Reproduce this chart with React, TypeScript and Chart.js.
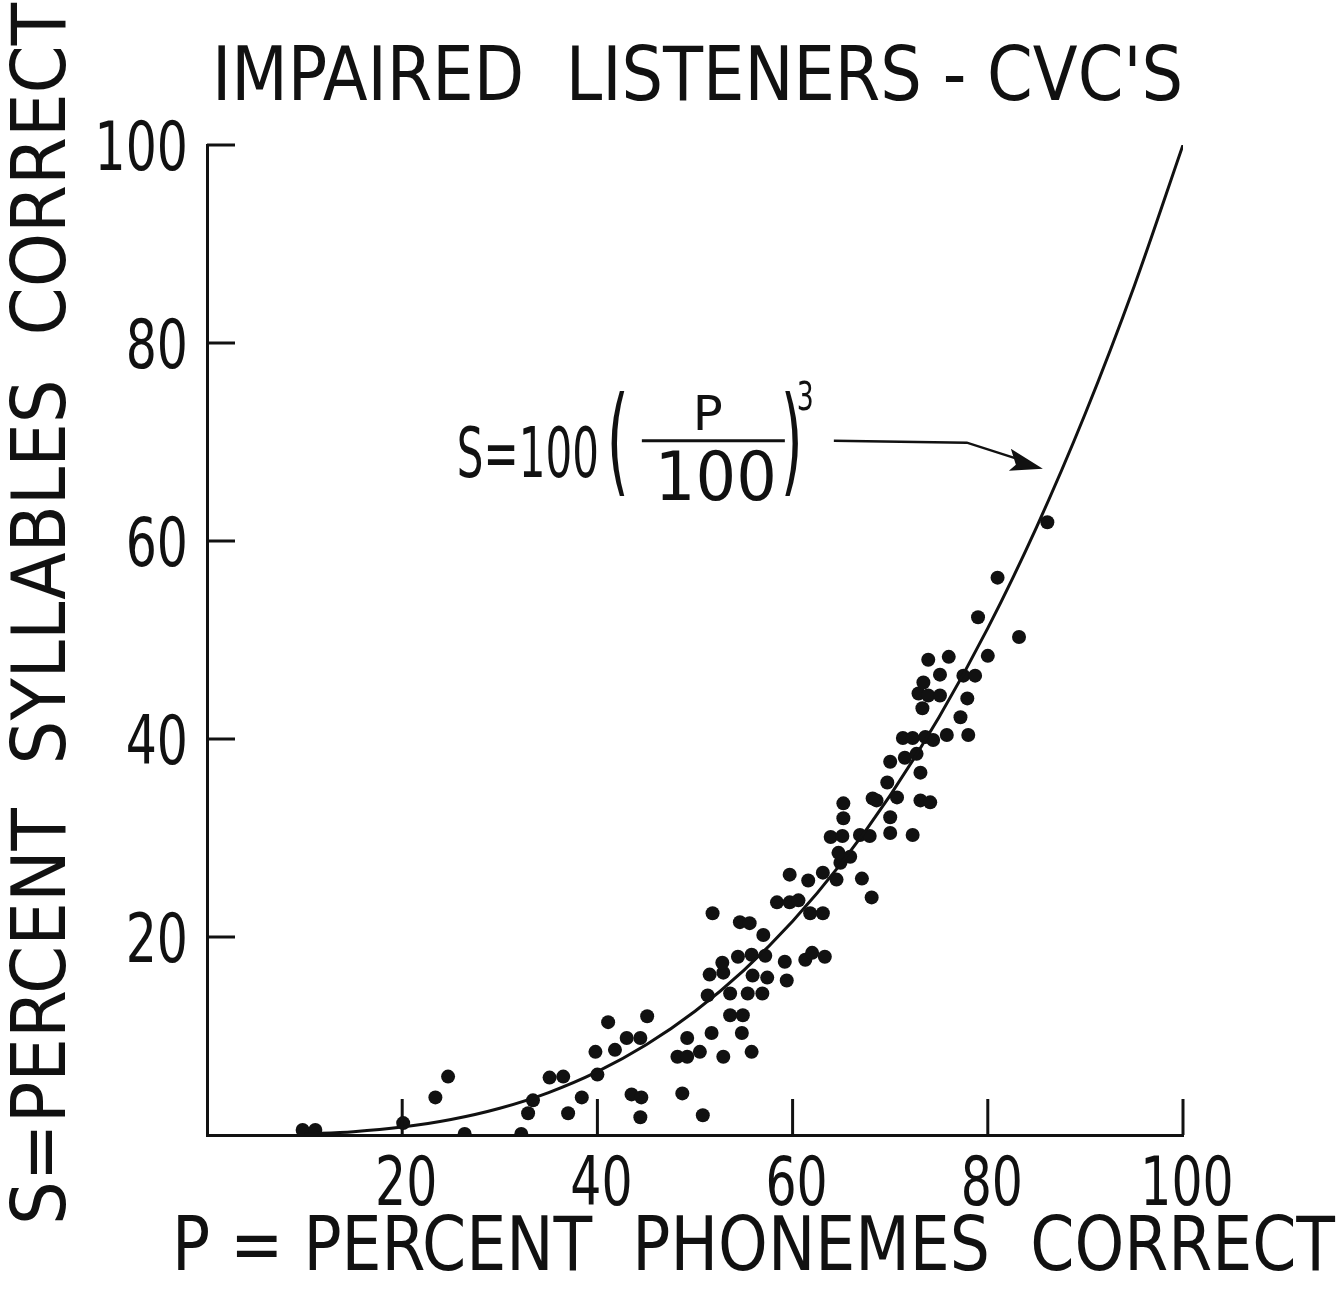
import { useEffect, useRef } from "react";
import { Chart, registerables } from "chart.js";

Chart.register(...registerables);

const INK = "#111111";
const FONT = '"Liberation Sans Narrow", "DejaVu Sans Condensed", "DejaVu Sans", sans-serif';

// Text
const chartTitle = "IMPAIRED  LISTENERS - CVC'S";
const xAxisTitle = "P = PERCENT  PHONEMES  CORRECT";
const yAxisTitle = "S=PERCENT  SYLLABLES  CORRECT";

// Axis ticks (percent)
const tickValues = [0, 20, 40, 60, 80, 100];

// Observed scores: percent phonemes correct (P) and percent syllables correct (S)
const phonemesCorrect = [
  9.8, 11.1, 20.1, 23.4, 24.7, 26.4, 32.2, 32.9, 33.4, 35.1, 36.5, 37.0, 38.4, 40.0, 39.8,
  41.8, 41.1, 43.0, 44.4, 45.1, 43.5, 44.5, 44.4, 48.7, 50.8, 48.2, 49.2, 49.2, 50.5, 51.7,
  52.9, 54.8, 55.8, 53.6, 54.9, 51.3, 53.6, 55.4, 56.9, 51.5, 52.9, 52.8, 54.4, 55.8, 57.2,
  55.9, 57.4, 59.2, 59.4, 61.3, 62.0, 63.3, 51.8, 54.6, 55.6, 57.0, 58.4, 59.7, 60.6, 59.7,
  61.6, 61.8, 63.1, 63.1, 64.5, 67.1, 68.1, 64.9, 64.7, 65.9, 63.9, 65.1, 66.9, 67.9, 65.2,
  65.2, 68.2, 68.6, 70.7, 73.1, 74.1, 70.0, 70.0, 72.3, 69.7, 70.0, 71.5, 72.7, 73.1, 71.3,
  72.3, 73.6, 74.4, 75.8, 78.0, 77.2, 73.3, 72.9, 73.9, 75.1, 77.9, 73.4, 75.1, 77.5, 78.7,
  73.9, 76.0, 80.0, 79.0, 83.2, 81.0, 86.1,
];
const syllablesCorrect = [
  0.5, 0.5, 1.2, 3.8, 5.9, 0.1, 0.1, 2.2, 3.5, 5.8, 5.9, 2.2, 3.8, 6.1, 8.4,
  8.6, 11.4, 9.8, 9.8, 12.0, 4.1, 3.8, 1.8, 4.2, 2.0, 7.9, 7.9, 9.8, 8.4, 10.3,
  7.9, 10.3, 8.4, 12.1, 12.1, 14.1, 14.3, 14.3, 14.3, 16.2, 16.4, 17.4, 18.0, 18.2, 18.1,
  16.1, 15.9, 17.5, 15.6, 17.7, 18.4, 18.0, 22.4, 21.5, 21.4, 20.2, 23.5, 23.5, 23.7, 26.3,
  25.7, 22.4, 22.4, 26.5, 25.8, 25.9, 24.0, 27.5, 28.5, 28.1, 30.1, 30.2, 30.3, 30.2, 32.0,
  33.5, 34.0, 33.8, 34.1, 33.8, 33.6, 32.1, 30.5, 30.3, 35.6, 37.7, 38.1, 38.5, 36.6, 40.1,
  40.1, 40.2, 39.9, 40.4, 40.4, 42.2, 43.1, 44.6, 44.4, 44.4, 44.1, 45.7, 46.5, 46.4, 46.4,
  48.0, 48.3, 48.4, 52.3, 50.3, 56.3, 61.9,
];

// Fitted relation S = 100 (P/100)^3, evaluated at these P values
const curvePhonemes = [10, 15, 20, 25, 30, 35, 40, 45, 50, 55, 60, 65, 70, 75, 80, 85, 90, 95, 100];
const cubeLaw = (p: number) => 100 * Math.pow(p / 100, 3);

function drawFitted(
  ctx: CanvasRenderingContext2D,
  text: string,
  left: number,
  right: number,
  baseline: number,
  size: number
) {
  ctx.save();
  ctx.font = `${size}px ${FONT}`;
  ctx.textAlign = "left";
  ctx.textBaseline = "alphabetic";
  const w = ctx.measureText(text).width;
  ctx.translate(left, baseline);
  ctx.scale((right - left) / w, 1);
  ctx.fillText(text, 0, 0);
  ctx.restore();
}

// Draws text squeezed horizontally by sx, anchored by align at (x, baseline)
function drawSqueezed(
  ctx: CanvasRenderingContext2D,
  text: string,
  x: number,
  baseline: number,
  size: number,
  sx: number,
  align: CanvasTextAlign
) {
  ctx.save();
  ctx.font = `${size}px ${FONT}`;
  ctx.textAlign = align;
  ctx.textBaseline = "alphabetic";
  ctx.translate(x, baseline);
  ctx.scale(sx, 1);
  ctx.fillText(text, 0, 0);
  ctx.restore();
}

const figureText = {
  id: "figureText",
  afterDraw(chart: any) {
    const { ctx, chartArea } = chart;
    const xs = chart.scales.x;
    const ys = chart.scales.y;
    ctx.save();
    ctx.fillStyle = INK;
    ctx.strokeStyle = INK;
    ctx.lineCap = "butt";

    // inward tick marks and tick labels
    ctx.lineWidth = 3;
    xs.ticks.forEach((t: any) => {
      if (t.value === 0) return;
      const px = xs.getPixelForValue(t.value);
      ctx.beginPath();
      ctx.moveTo(px, chartArea.bottom);
      ctx.lineTo(px, chartArea.bottom - 36);
      ctx.stroke();
      drawSqueezed(ctx, String(t.value), px + 4, chartArea.bottom + 70, 68, 0.8, "center");
    });
    ys.ticks.forEach((t: any) => {
      if (t.value === 0) return;
      const py = ys.getPixelForValue(t.value);
      ctx.beginPath();
      ctx.moveTo(chartArea.left, py);
      ctx.lineTo(chartArea.left + 28, py);
      ctx.stroke();
      drawSqueezed(ctx, String(t.value), chartArea.left - 19, py + 25, 68, 0.8, "right");
    });

    // titles
    drawFitted(ctx, chartTitle, chartArea.left + 5, chartArea.right, chartArea.top - 45, 75);
    drawFitted(ctx, xAxisTitle, 172, 1335, chartArea.bottom + 135, 75);
    ctx.save();
    ctx.translate(65, 1225);
    ctx.rotate(-Math.PI / 2);
    drawFitted(ctx, yAxisTitle, 0, 1222, 0, 75);
    ctx.restore();

    // equation label with arrow
    const ax = xs.getPixelForValue(25.6);
    const ay = ys.getPixelForValue(66.5);
    drawFitted(ctx, "S=100", ax, ax + 142, ay, 70);
    drawFitted(ctx, "(", ax + 150, ax + 172, ay + 4, 118);
    drawFitted(ctx, "P", ax + 236, ax + 266, ay - 47, 48);
    ctx.lineWidth = 3;
    ctx.beginPath();
    ctx.moveTo(ax + 185, ay - 36);
    ctx.lineTo(ax + 328, ay - 36);
    ctx.stroke();
    drawFitted(ctx, "100", ax + 198, ax + 320, ay + 23, 68);
    drawFitted(ctx, ")", ax + 324, ax + 346, ay + 4, 118);
    drawFitted(ctx, "3", ax + 340, ax + 357, ay - 67, 39);

    ctx.lineWidth = 2.5;
    ctx.beginPath();
    ctx.moveTo(ax + 377, ay - 36);
    ctx.lineTo(ax + 510, ay - 34);
    ctx.lineTo(ax + 566, ay - 16);
    ctx.stroke();
    const tipX = ax + 586;
    const tipY = ay - 8;
    ctx.beginPath();
    ctx.moveTo(tipX, tipY);
    ctx.lineTo(tipX - 32, tipY - 20);
    ctx.lineTo(tipX - 27, tipY - 4);
    ctx.lineTo(tipX - 34, tipY + 2);
    ctx.closePath();
    ctx.fill();

    ctx.restore();
  },
};

export default function App() {
  const canvasRef = useRef<HTMLCanvasElement | null>(null);

  useEffect(() => {
    document.body.style.margin = "0";
    const canvas = canvasRef.current;
    if (!canvas) return;

    const scatterPoints = phonemesCorrect.map((p, i) => ({ x: p, y: syllablesCorrect[i] }));
    const curvePoints = curvePhonemes.map((p) => ({ x: p, y: cubeLaw(p) }));

    const chart = new Chart(canvas, {
      type: "scatter",
      data: {
        datasets: [
          {
            label: "S = 100 (P/100)^3",
            data: curvePoints,
            showLine: true,
            borderColor: INK,
            borderWidth: 3,
            pointRadius: 0,
            tension: 0.4,
            cubicInterpolationMode: "monotone",
          },
          {
            label: "Listeners",
            data: scatterPoints,
            pointRadius: 7,
            pointBackgroundColor: INK,
            pointBorderWidth: 0,
            showLine: false,
          },
        ],
      },
      options: {
        responsive: false,
        animation: false,
        devicePixelRatio: 1,
        layout: { padding: { top: 145, right: 157, left: 0, bottom: 0 } },
        plugins: {
          legend: { display: false },
          tooltip: { enabled: false },
          title: { display: false },
        },
        scales: {
          x: {
            type: "linear",
            min: 0,
            max: 100,
            afterBuildTicks: (scale: any) => {
              scale.ticks = tickValues.map((v) => ({ value: v }));
            },
            afterFit: (scale: any) => {
              scale.height = 155;
            },
            grid: { display: false, drawTicks: false },
            border: { display: true, color: INK, width: 3 },
            ticks: { display: false },
          },
          y: {
            type: "linear",
            min: 0,
            max: 100,
            afterBuildTicks: (scale: any) => {
              scale.ticks = tickValues.map((v) => ({ value: v }));
            },
            afterFit: (scale: any) => {
              scale.width = 207;
            },
            grid: { display: false, drawTicks: false },
            border: { display: true, color: INK, width: 3 },
            ticks: { display: false },
          },
        },
      },
      plugins: [figureText],
    });

    return () => chart.destroy();
  }, []);

  return (
    <div style={{ width: 1340, height: 1290, background: "#ffffff" }}>
      <canvas ref={canvasRef} width={1340} height={1290} style={{ display: "block" }} />
    </div>
  );
}
